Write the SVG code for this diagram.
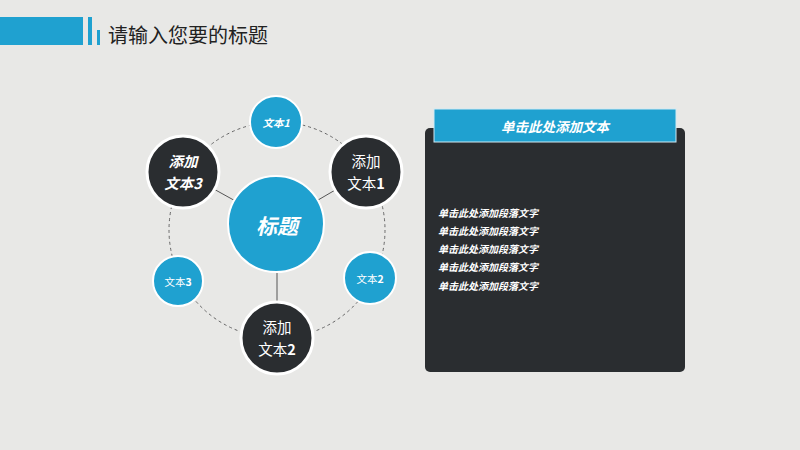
<svg xmlns="http://www.w3.org/2000/svg" width="800" height="450" viewBox="0 0 800 450">
<style>
.t{font-family:"Noto Sans CJK SC","Liberation Sans",sans-serif;fill:#fff;text-anchor:middle;dominant-baseline:central}
.t2{font-family:"Noto Sans CJK SC","Liberation Sans",sans-serif;fill:#fff;text-anchor:middle;font-size:14.5px}
.blue{fill:#1fa1d0;stroke:#fff;stroke-width:2}
.dark{fill:#2a2d30;stroke:#fff;stroke-width:3}
.lk{stroke:#555;stroke-width:1;fill:none}
.para{font-family:"Noto Sans CJK SC","Liberation Sans",sans-serif;fill:#fff;font-size:10px;font-style:italic;font-weight:bold}
</style>
<rect width="800" height="450" fill="#e8e8e6"/>
<g id="header">
<rect x="0" y="17" width="83" height="28" fill="#1fa1d0"/>
<rect x="88" y="17" width="4" height="28" fill="#1fa1d0"/>
<rect x="97" y="30" width="3" height="15" fill="#1fa1d0"/>
<text x="108" y="43" font-family="Noto Sans CJK SC,Liberation Sans,sans-serif" font-size="20" fill="#222">请输入您要的标题</text>
</g>
<g id="connectors">
<circle cx="277" cy="230" r="108" fill="none" stroke="#666" stroke-width="1" stroke-dasharray="3,3"/>
<line class="lk" x1="277" y1="224" x2="183" y2="172"/>
<line class="lk" x1="277" y1="224" x2="366" y2="172"/>
<line class="lk" x1="277" y1="224" x2="277" y2="338"/>
</g>
<g id="n-text1"><circle class="blue" cx="276" cy="122" r="26"/><text class="t" x="276" y="122" font-size="10.5" font-style="italic" font-weight="bold">文本1</text></g>
<g id="n-add1"><circle class="dark" cx="366" cy="172" r="36"/><text class="t2" x="366" y="167"><tspan x="366" y="167">添加</tspan><tspan x="366" y="188.5">文本<tspan font-weight="bold">1</tspan></tspan></text></g>
<g id="n-add3"><circle class="dark" cx="183" cy="172" r="36"/><text class="t2" x="183" y="167" font-style="italic" font-weight="bold"><tspan x="183" y="167">添加</tspan><tspan x="183" y="188.5">文本3</tspan></text></g>
<g id="n-title"><circle class="blue" cx="276" cy="224" r="48" stroke-width="1.5"/><text class="t" x="277" y="225" font-size="21" font-style="italic" font-weight="bold">标题</text></g>
<g id="n-text3"><circle class="blue" cx="178" cy="281" r="25"/><text class="t" x="178" y="281" font-size="10.5">文本<tspan font-weight="bold">3</tspan></text></g>
<g id="n-text2"><circle class="blue" cx="370" cy="278" r="26"/><text class="t" x="370" y="278" font-size="10.5">文本<tspan font-weight="bold">2</tspan></text></g>
<g id="n-add2"><circle class="dark" cx="277" cy="338" r="36"/><text class="t2" x="277" y="333"><tspan x="277" y="333">添加</tspan><tspan x="277" y="354.5">文本<tspan font-weight="bold">2</tspan></tspan></text></g>
<g id="panel">
<rect x="425" y="128" width="260" height="244" rx="5" fill="#2a2d30"/>
<rect x="434" y="109" width="242" height="33" fill="#1fa1d0" stroke="#cfe9f3" stroke-width="1"/>
<text class="t" x="555" y="126" font-size="13.5" font-style="italic" font-weight="bold">单击此处添加文本</text>
<text class="para" x="438" y="217">单击此处添加段落文字</text>
<text class="para" x="438" y="235">单击此处添加段落文字</text>
<text class="para" x="438" y="253">单击此处添加段落文字</text>
<text class="para" x="438" y="271">单击此处添加段落文字</text>
<text class="para" x="438" y="290">单击此处添加段落文字</text>
</g>
</svg>
